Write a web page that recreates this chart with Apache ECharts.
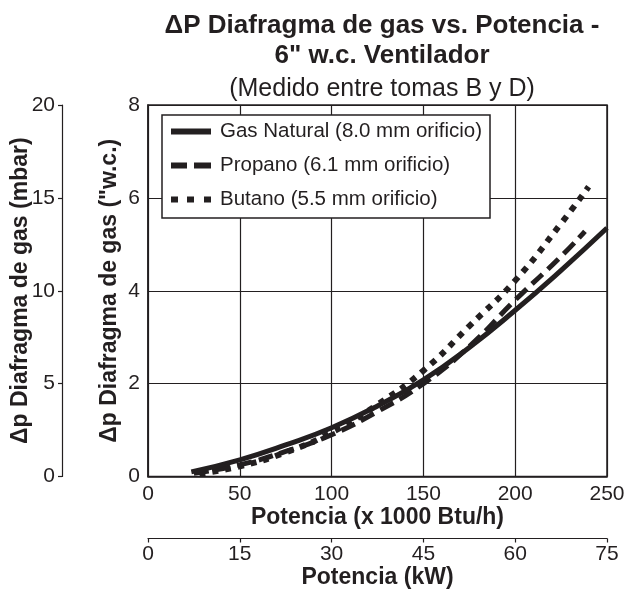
<!DOCTYPE html>
<html>
<head>
<meta charset="utf-8">
<script src="https://cdn.jsdelivr.net/npm/echarts@6/dist/echarts.min.js"></script>
<style>
html,body{margin:0;padding:0;background:#fff;}
#c{width:624px;height:591px;}
</style>
</head>
<body>
<div id="c"></div>
<script>
// Data (x in 1000 Btu/h, y in "w.c.)
const natX = [23.6, 50, 75, 100, 125, 150, 175, 200, 225, 250];
const natY = [0.10, 0.36, 0.68, 1.05, 1.52, 2.08, 2.78, 3.58, 4.44, 5.35];
const proX = [25, 50, 75, 100, 125, 150, 175, 200, 225, 238];
const proY = [0.07, 0.25, 0.54, 0.90, 1.40, 2.00, 2.80, 3.80, 4.74, 5.28];
const butX = [28, 50, 75, 100, 125, 150, 175, 200, 225, 240];
const butY = [0.06, 0.22, 0.52, 0.95, 1.55, 2.28, 3.24, 4.22, 5.45, 6.24];
const seriesNames = ['Gas Natural (8.0 mm orificio)', 'Propano (6.1 mm orificio)', 'Butano (5.5 mm orificio)'];
const titleLines = ['\u0394P Diafragma de gas vs. Potencia -', '6" w.c. Ventilador'];
const subTitle = '(Medido entre tomas B y D)';
const xName = 'Potencia (x 1000 Btu/h)';
const x2Name = 'Potencia (kW)';
const yName = '\u0394p Diafragma de gas ("w.c.)';
const y2Name = '\u0394p Diafragma de gas (mbar)';

const pairs = (xs, ys) => xs.map((x, i) => [x, ys[i]]);
const FONT = 'Liberation Sans';
const INK = '#231f20';

// legend icon shapes (40 x 6 box)
const ICON_SOLID = 'path://M0,0H40V6H0Z';
const ICON_DASH = 'path://M0,0H16V6H0Z M23,0H40V6H23Z';
const ICON_DOT = 'path://M0,0H7V6H0Z M16,0H23V6H16Z M33,0H40V6H33Z';

const chart = echarts.init(document.getElementById('c'), null, {renderer: 'canvas'});
const tickLabel = {color: INK, fontFamily: FONT, fontSize: 21};
const nameStyle = {color: INK, fontFamily: FONT, fontSize: 23, fontWeight: 'bold'};

chart.setOption({
  backgroundColor: '#fff',
  animation: false,
  title: {
    text: titleLines.join('\n'),
    subtext: subTitle,
    left: 377, top: 6, textAlign: 'center',
    itemGap: 4,
    textStyle: {fontFamily: FONT, fontSize: 26, fontWeight: 'bold', color: INK, lineHeight: 30},
    subtextStyle: {fontFamily: FONT, fontSize: 25, color: INK, lineHeight: 28}
  },
  grid: {left: 148, right: 17, top: 105, bottom: 114.5, outerBoundsMode: 'none', containLabel: false,
         show: true, borderColor: INK, borderWidth: 1.5, backgroundColor: 'transparent'},
  legend: {
    orient: 'vertical', left: 162, top: 115,
    itemWidth: 40, itemHeight: 6, itemGap: 13,
    padding: [6, 8, 8, 9],
    borderColor: INK, borderWidth: 1.5, backgroundColor: '#fff',
    textStyle: {fontFamily: FONT, fontSize: 20.5, color: INK, padding: [0, 0, 0, 4]},
    data: [
      {name: seriesNames[0], icon: ICON_SOLID},
      {name: seriesNames[1], icon: ICON_DASH},
      {name: seriesNames[2], icon: ICON_DOT}
    ]
  },
  xAxis: [
    {
      type: 'value', min: 0, max: 250, interval: 50, gridIndex: 0,
      name: xName, nameLocation: 'middle', nameGap: 30, nameTextStyle: nameStyle, nameMoveOverlap: false,
      axisLine: {show: true, lineStyle: {color: INK, width: 1.5}},
      axisTick: {show: false},
      axisLabel: Object.assign({margin: 7}, tickLabel),
      splitLine: {show: true, lineStyle: {color: INK, width: 1.2}}
    },
    {
      type: 'value', min: 0, max: 75, interval: 15, gridIndex: 0, position: 'bottom', offset: 62,
      name: x2Name, nameLocation: 'middle', nameGap: 28, nameTextStyle: nameStyle, nameMoveOverlap: false,
      axisLine: {show: true, onZero: false, lineStyle: {color: INK, width: 1.2}},
      axisTick: {show: true, length: 4, lineStyle: {color: INK, width: 1.2}},
      axisLabel: Object.assign({margin: 5}, tickLabel),
      splitLine: {show: false}
    }
  ],
  yAxis: [
    {
      type: 'value', min: 0, max: 8, interval: 2, gridIndex: 0,
      name: yName, nameLocation: 'middle', nameGap: 27, nameRotate: 90, nameTextStyle: nameStyle, nameMoveOverlap: false,
      axisLine: {show: true, lineStyle: {color: INK, width: 1.5}},
      axisTick: {show: false},
      axisLabel: Object.assign({margin: 8}, tickLabel),
      splitLine: {show: true, lineStyle: {color: INK, width: 1.2}}
    },
    {
      type: 'value', min: 0, max: 20, interval: 5, gridIndex: 0, position: 'left', offset: 86,
      name: y2Name, nameLocation: 'middle', nameGap: 30, nameRotate: 90, nameTextStyle: nameStyle, nameMoveOverlap: false,
      axisLine: {show: true, onZero: false, lineStyle: {color: INK, width: 1.2}},
      axisTick: {show: true, length: 4, lineStyle: {color: INK, width: 1.2}},
      axisLabel: Object.assign({margin: 7}, tickLabel),
      splitLine: {show: false}
    }
  ],
  series: [
    {
      name: seriesNames[0], type: 'line', xAxisIndex: 0, yAxisIndex: 0, smooth: true, symbol: 'none',
      data: pairs(natX, natY), z: 5,
      lineStyle: {color: INK, width: 5, type: 'solid', cap: 'butt'}, itemStyle: {color: INK}
    },
    {
      name: seriesNames[1], type: 'line', xAxisIndex: 0, yAxisIndex: 0, smooth: true, symbol: 'none',
      data: pairs(proX, proY), z: 4,
      lineStyle: {color: INK, width: 5, type: [15, 7], cap: 'butt'}, itemStyle: {color: INK}
    },
    {
      name: seriesNames[2], type: 'line', xAxisIndex: 0, yAxisIndex: 0, smooth: true, symbol: 'none',
      data: pairs(butX, butY), z: 3,
      lineStyle: {color: INK, width: 6, type: [6, 7], cap: 'butt'}, itemStyle: {color: INK}
    }
  ]
});
</script>
</body>
</html>
